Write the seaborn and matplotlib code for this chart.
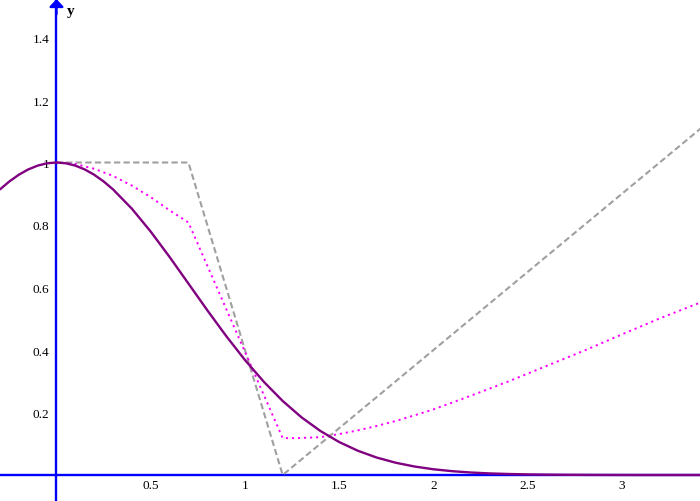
import numpy as np
import pandas as pd
import matplotlib
matplotlib.use("Agg")
import matplotlib.pyplot as plt
import seaborn as sns

# ---- data ----
gauss_x = [-0.3, -0.25, -0.2, -0.15, -0.1, -0.05, 0.0, 0.05, 0.1, 0.15, 0.2, 0.25,
           0.3, 0.4, 0.5, 0.6, 0.7, 0.8, 0.9, 1.0,
           1.1, 1.2, 1.3, 1.4, 1.5, 1.6, 1.7, 1.8, 1.9, 2.0, 2.1, 2.2, 2.3, 2.4,
           2.5, 2.6, 2.7, 2.8, 2.9, 3.0, 3.1, 3.2, 3.3, 3.45]
gauss_y = [0.9139, 0.9394, 0.9608, 0.9778, 0.9900, 0.9975, 1.0, 0.9975, 0.9900,
           0.9778, 0.9608, 0.9394, 0.9139, 0.8521, 0.7788,
           0.6977, 0.6126, 0.5273, 0.4449, 0.3679, 0.2982, 0.2369, 0.1845, 0.1409,
           0.1054, 0.0773, 0.0556, 0.0392, 0.0271, 0.0183, 0.0122, 0.0079, 0.0050,
           0.0032, 0.0019, 0.0012, 0.0007, 0.0004, 0.0002, 0.0001, 0.0, 0.0, 0.0, 0.0]

dotted_x = [0.0, 0.1, 0.2, 0.3, 0.4, 0.5, 0.6, 0.7, 1.2, 1.28, 1.4, 1.5, 1.6, 1.7,
            1.8, 1.9, 2.0, 2.2, 2.4, 2.6, 2.8, 3.0, 3.2, 3.45]
dotted_y = [1.0, 0.995, 0.980, 0.957, 0.926, 0.889, 0.847, 0.808, 0.118, 0.118,
            0.121, 0.131, 0.143, 0.157, 0.173, 0.191, 0.210, 0.254, 0.300, 0.349,
            0.398, 0.450, 0.501, 0.560]

dashed_x = [0.0, 0.7, 1.2, 3.45]
dashed_y = [1.0, 1.0, 0.0, 1.125]

x_ticks = [0.5, 1, 1.5, 2, 2.5, 3]
x_tick_labels = ["0.5", "1", "1.5", "2", "2.5", "3"]
y_ticks = [0.2, 0.4, 0.6, 0.8, 1.0, 1.2, 1.4]
y_tick_labels = ["0.2", "0.4", "0.6", "0.8", "1", "1.2", "1.4"]

# ---- figure ----
sns.set_style("white")
plt.rcParams["font.family"] = ["Liberation Serif", "DejaVu Serif"]

fig = plt.figure(figsize=(7.0, 5.02), dpi=100)
ax = fig.add_axes([0, 0, 1, 1])

df_d = pd.DataFrame({"x": dashed_x, "y": dashed_y})
df_m = pd.DataFrame({"x": dotted_x, "y": dotted_y})
df_g = pd.DataFrame({"x": gauss_x, "y": gauss_y})

sns.lineplot(data=df_d, x="x", y="y", ax=ax, sort=False, estimator=None,
             color="#a0a0a0", linewidth=1.5, linestyle=(0, (3, 1.6)), zorder=3)
sns.lineplot(data=df_m, x="x", y="y", ax=ax, sort=False, estimator=None,
             color="#ff00ff", linewidth=1.4, linestyle=(0, (1.1, 2.0)), zorder=4)
sns.lineplot(data=df_g, x="x", y="y", ax=ax, sort=False, estimator=None,
             color="#800080", linewidth=1.7, zorder=5)

ax.set_xlim(-0.2997, 3.414)
ax.set_ylim(-0.0832, 1.5232)

for s in ["top", "right"]:
    ax.spines[s].set_visible(False)
ax.spines["left"].set_position(("data", 0))
ax.spines["bottom"].set_position(("data", 0))
for s in ["left", "bottom"]:
    ax.spines[s].set_color("#0000ff")
    ax.spines[s].set_linewidth(1.7)
    ax.spines[s].set_zorder(2)

ax.set_xticks(x_ticks)
ax.set_xticklabels(x_tick_labels)
ax.set_yticks(y_ticks)
ax.set_yticklabels(y_tick_labels)
ax.tick_params(axis="x", direction="in", length=4.5, width=1.2, color="#0000ff",
               labelsize=9.5, pad=3, labelcolor="black")
ax.tick_params(axis="y", direction="inout", length=8.6, width=1.2, color="#0000ff",
               labelsize=9.5, pad=1, labelcolor="black")
ax.set_xlabel("")
ax.set_ylabel("")

# arrow head at the top of the y axis
ax.annotate("", xy=(0, 1.0), xycoords=ax.get_xaxis_transform(),
            xytext=(0, 0.97), textcoords=ax.get_xaxis_transform(),
            arrowprops=dict(arrowstyle="-|>,head_length=0.45,head_width=0.42",
                            color="#0000ff", lw=1.7, mutation_scale=10,
                            shrinkA=0, shrinkB=0), annotation_clip=False)

ax.text(0.075, 1.485, "y", fontsize=11, fontweight="bold", color="black",
        ha="center", va="center")

fig.savefig("out.png", dpi=100, facecolor="white")
